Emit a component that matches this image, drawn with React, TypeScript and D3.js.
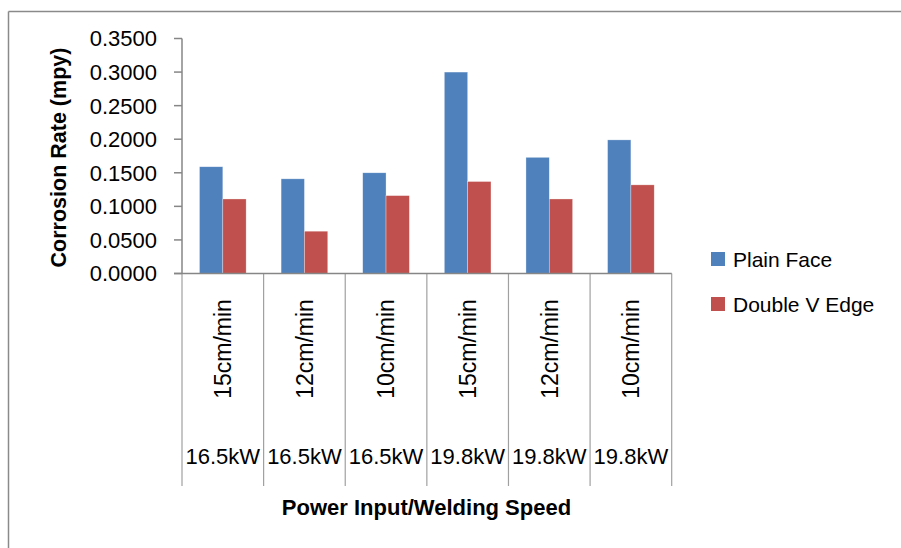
import React from "react";
import * as d3 from "d3";

const speeds = ["15cm/min", "12cm/min", "10cm/min", "15cm/min", "12cm/min", "10cm/min"];
const powers = ["16.5kW", "16.5kW", "16.5kW", "19.8kW", "19.8kW", "19.8kW"];
const seriesNames = ["Plain Face", "Double V Edge"];
const plainFace = [0.159, 0.141, 0.150, 0.300, 0.173, 0.199];
const doubleVEdge = [0.111, 0.063, 0.116, 0.137, 0.111, 0.132];
const yTicks = [0, 0.05, 0.1, 0.15, 0.2, 0.25, 0.3, 0.35];
const colors = ["#4F81BD", "#C0504D"];

const W = 901;
const H = 548;
const FONT = "'Liberation Sans', Arial, sans-serif";

export default function App() {
  const idx = d3.range(speeds.length);
  const x = d3.scaleBand<number>().domain(idx).range([182, 671.7]).paddingInner(0).paddingOuter(0);
  const sub = d3
    .scaleBand<number>()
    .domain([0, 1])
    .range([0, x.bandwidth()])
    .paddingInner(0)
    .paddingOuter(0.75);
  const y = d3.scaleLinear().domain([0, 0.35]).range([273.5, 38.5]);
  const fmt = d3.format(".4f");
  const series = [plainFace, doubleVEdge];
  const boundaries = idx.map((i) => x(i)!).concat([x.range()[1]]);
  const axisColor = "#868686";
  const sepBottom = 486;

  return (
    <svg
      width={W}
      height={H}
      style={{ position: "absolute", left: 0, top: 0, background: "#fff" }}
      fontFamily={FONT}
    >
      <rect x={0} y={0} width={W} height={H} fill="#fff" />
      {/* outer frame */}
      <line x1={8.5} y1={11.5} x2={W} y2={11.5} stroke="#8a8a8a" strokeWidth={1.5} />
      <line x1={8.5} y1={11.5} x2={8.5} y2={H} stroke="#8a8a8a" strokeWidth={1.5} />

      {/* bars */}
      {series.map((vals, s) =>
        vals.map((v, i) => (
          <rect
            key={`b${s}-${i}`}
            x={x(i)! + sub(s)!}
            y={y(v)}
            width={sub.bandwidth()}
            height={y(0) - y(v)}
            fill={colors[s]}
            stroke="rgba(255,255,255,0.5)"
            strokeWidth={0.6}
          />
        ))
      )}

      {/* y axis */}
      <line x1={182} y1={y(0.35)} x2={182} y2={y(0)} stroke={axisColor} strokeWidth={1.5} />
      {yTicks.map((t) => (
        <g key={`t${t}`}>
          <line x1={174} y1={y(t)} x2={182} y2={y(t)} stroke={axisColor} strokeWidth={1.5} />
          <text
            x={157}
            y={y(t)}
            dy="0.36em"
            textAnchor="end"
            fontSize={22}
            fill="#000"
          >
            {fmt(t)}
          </text>
        </g>
      ))}

      {/* category separators */}
      {boundaries.map((b, i) => (
        <line key={`s${i}`} x1={b} y1={y(0)} x2={b} y2={sepBottom} stroke="#a0a0a0" strokeWidth={1.2} />
      ))}
      {/* x axis */}
      <line x1={174} y1={y(0)} x2={x.range()[1]} y2={y(0)} stroke={axisColor} strokeWidth={1.5} />

      {/* category labels */}
      {idx.map((i) => {
        const cx = x(i)! + x.bandwidth() / 2;
        return (
          <g key={`c${i}`}>
            <text
              transform={`translate(${cx},349) rotate(-90)`}
              textAnchor="middle"
              dy="0.36em"
              fontSize={23}
              fill="#000"
            >
              {speeds[i]}
            </text>
            <text x={cx} y={456} dy="0.36em" textAnchor="middle" fontSize={22} fill="#000">
              {powers[i]}
            </text>
          </g>
        );
      })}

      {/* axis titles */}
      <text
        transform="translate(58,157.5) rotate(-90)"
        textAnchor="middle"
        dy="0.36em"
        fontSize={21.5}
        fontWeight="bold"
        fill="#000"
      >
        Corrosion Rate (mpy)
      </text>
      <text x={426.5} y={507} dy="0.36em" textAnchor="middle" fontSize={22} fontWeight="bold" fill="#000">
        Power Input/Welding Speed
      </text>

      {/* legend */}
      {seriesNames.map((n, s) => {
        const cy = 259 + s * 45;
        return (
          <g key={`l${s}`}>
            <rect x={711} y={cy - 7} width={14} height={14} fill={colors[s]} />
            <text x={733} y={cy} dy="0.36em" fontSize={21} fill="#000">
              {n}
            </text>
          </g>
        );
      })}
    </svg>
  );
}
